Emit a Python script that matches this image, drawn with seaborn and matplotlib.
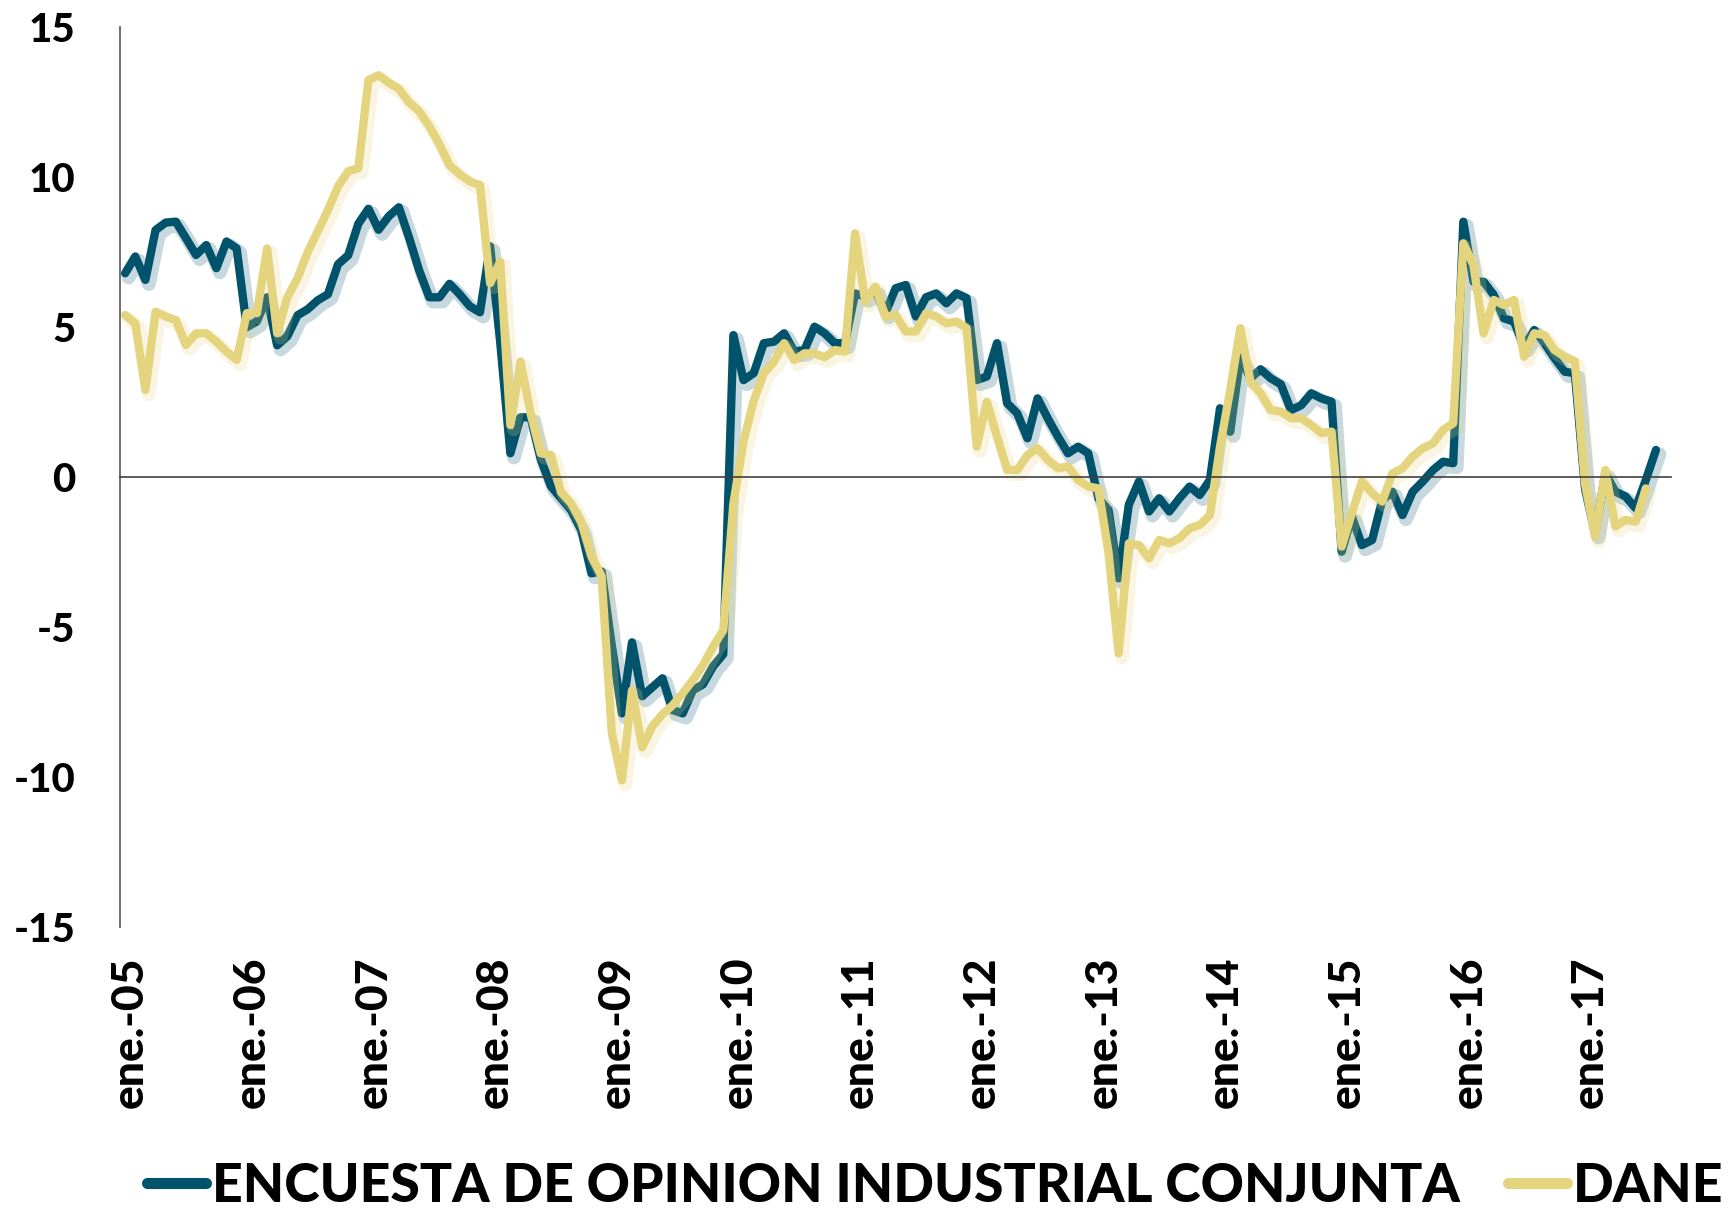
import numpy as np
import pandas as pd
import matplotlib
matplotlib.use("Agg")
import matplotlib.pyplot as plt
import matplotlib.patheffects as pe
from matplotlib.lines import Line2D
from matplotlib import font_manager
import seaborn as sns

# monthly values, ene-2005 .. ago-2017
eoic = [6.8, 7.36, 6.58, 8.24, 8.49, 8.52, 7.97, 7.41, 7.74, 6.97, 7.86, 7.63,
        5.0, 5.2, 6.0, 4.4, 4.7, 5.4, 5.6, 5.9, 6.1, 7.1, 7.4, 8.45,
        8.95, 8.25, 8.7, 9.0, 8.0, 6.9, 6.0, 6.0, 6.45, 6.1, 5.7, 5.5,
        7.7, 4.5, 0.8, 2.0, 2.0, 0.6, -0.3, -0.7, -1.1, -1.76, -3.2, -3.14,
        -5.6, -7.87, -5.5, -7.3, -7.0, -6.7, -7.76, -7.87, -7.1, -6.9, -6.3, -5.9,
        4.74, 3.24, 3.47, 4.47, 4.52, 4.8, 4.19, 4.24, 5.02, 4.8, 4.47, 4.47,
        6.13, 6.02, 6.24, 5.47, 6.3, 6.41, 5.36, 6.0, 6.13, 5.8, 6.13, 5.97,
        3.24, 3.36, 4.47, 2.47, 2.13, 1.3, 2.63, 1.97, 1.36, 0.8, 1.02, 0.8,
        -0.7, -1.09, -3.37, -0.92, -0.14, -1.14, -0.7, -1.14, -0.7, -0.31, -0.59, -0.09,
        2.3, 1.52, 4.0, 3.3, 3.6, 3.3, 3.1, 2.24, 2.4, 2.8, 2.63, 2.52,
        -2.48, -1.31, -2.26, -2.09, -0.76, -0.48, -1.26, -0.48, -0.14, 0.24, 0.52, 0.47,
        8.52, 6.52, 6.52, 6.08, 5.3, 5.19, 4.36, 4.91, 4.47, 3.97, 3.52, 3.47,
        -0.37, -1.87, 0.13, -0.48, -0.64, -1.03, -0.09, 0.91]

dane = [5.41, 5.13, 2.91, 5.52, 5.36, 5.24, 4.41, 4.8, 4.8, 4.52, 4.19, 3.91,
        5.47, 5.47, 7.63, 4.8, 6.0, 6.63, 7.5, 8.2, 8.9, 9.7, 10.2, 10.3,
        13.24, 13.4, 13.15, 12.95, 12.5, 12.2, 11.7, 11.1, 10.4, 10.1, 9.86, 9.74,
        6.47, 7.19, 1.74, 3.86, 2.13, 0.8, 0.74, -0.5, -0.87, -1.5, -2.64, -3.3,
        -8.5, -10.1, -7.1, -9.0, -8.3, -7.9, -7.6, -7.2, -6.76, -6.26, -5.64, -5.1,
        -0.87, 1.2, 2.55, 3.47, 3.85, 4.47, 3.91, 4.13, 4.13, 4.0, 4.24, 4.19,
        8.13, 5.86, 6.36, 5.36, 5.41, 4.86, 4.86, 5.47, 5.36, 5.13, 5.19, 4.97,
        1.02, 2.52, 1.36, 0.25, 0.24, 0.74, 0.97, 0.58, 0.3, 0.36, -0.09, -0.31,
        -0.37, -2.5, -5.87, -2.2, -2.26, -2.7, -2.09, -2.2, -2.03, -1.7, -1.59, -1.26,
        1.02, 2.9, 4.97, 3.19, 2.8, 2.24, 2.19, 1.97, 1.97, 1.74, 1.47, 1.52,
        -2.31, -1.2, -0.14, -0.53, -0.81, 0.13, 0.3, 0.69, 0.97, 1.13, 1.58, 1.8,
        7.8, 7.08, 4.8, 5.91, 5.74, 5.91, 4.02, 4.8, 4.74, 4.24, 4.02, 3.86,
        -0.2, -1.98, 0.24, -1.64, -1.42, -1.48, -0.37]

tick_labels = ["ene.-05", "ene.-06", "ene.-07", "ene.-08", "ene.-09", "ene.-10", "ene.-11",
               "ene.-12", "ene.-13", "ene.-14", "ene.-15", "ene.-16", "ene.-17"]
series_names = ["ENCUESTA DE OPINION INDUSTRIAL CONJUNTA", "DANE"]
eoic_break = 109  # the EOIC line is not joined between month 108 and 109

BLUE = "#01536B"
YELLOW = "#E5D47E"

df = pd.DataFrame({"mes": np.arange(len(eoic)), "eoic": eoic,
                   "dane": dane + [np.nan] * (len(eoic) - len(dane))})
df["tramo"] = (df["mes"] >= eoic_break).astype(int)

sns.set_style("white")
plt.rcParams["font.family"] = ["Lato", "DejaVu Sans"]
plt.rcParams["font.weight"] = 900
plt.rcParams["text.color"] = "black"
plt.rcParams["axes.unicode_minus"] = False

fig = plt.figure(figsize=(17.35, 12.12), dpi=100)
ax = fig.add_axes([0.0692, 0.2349, 0.8940, 0.7426])

sns.lineplot(data=df, x="mes", y="eoic", units="tramo", estimator=None,
             color=BLUE, lw=6, ax=ax)
sns.lineplot(data=df.dropna(subset=["dane"]), x="mes", y="dane", estimator=None,
             color=YELLOW, lw=6, ax=ax)

for ln in ax.lines:
    ln.set_solid_joinstyle("round")
    ln.set_solid_capstyle("round")
    ln.set_path_effects([pe.SimpleLineShadow(offset=(2.5, -3), shadow_color=ln.get_color(),
                                             alpha=0.22, linewidth=10),
                         pe.Normal()])

ax.set_xlim(-0.5, 152.5)
ax.set_ylim(-15, 15)
ax.set_xlabel("")
ax.set_ylabel("")
ax.set_yticks(range(-15, 16, 5))
ax.set_xticks(np.arange(-0.5, 150, 12))
ax.set_xticklabels([])
ax.tick_params(axis="x", direction="out", length=10, width=1.2, colors="#404040")
ax.tick_params(axis="y", direction="out", length=10, width=1.2, color="#707070",
               labelsize=29, labelcolor="black", pad=22)

for s in ["top", "right"]:
    ax.spines[s].set_visible(False)
ax.spines["bottom"].set_position(("data", 0))
ax.spines["bottom"].set_color("#404040")
ax.spines["bottom"].set_linewidth(1.2)
ax.spines["left"].set_color("#707070")
ax.spines["left"].set_linewidth(1.4)

sec = ax.secondary_xaxis("bottom")
sec.set_xticks(np.arange(0.5, 150, 12), tick_labels)
sec.tick_params(length=0, pad=21, labelsize=32, labelrotation=90, labelcolor="black")
sec.spines["bottom"].set_visible(False)

leg_font = font_manager.FontProperties(family=["Lato", "DejaVu Sans"], weight=900, size=38.5)
handles = [Line2D([], [], color=BLUE, lw=8, solid_capstyle="round"),
           Line2D([], [], color=YELLOW, lw=8, solid_capstyle="round")]
fig.legend(handles, series_names, loc="center", bbox_to_anchor=(0.539, 0.021), ncol=2,
           frameon=False, handlelength=1.1, handletextpad=0.11, columnspacing=0.9,
           prop=leg_font, borderpad=0, borderaxespad=0, labelcolor="black")

fig.savefig("out.png", dpi=100)
